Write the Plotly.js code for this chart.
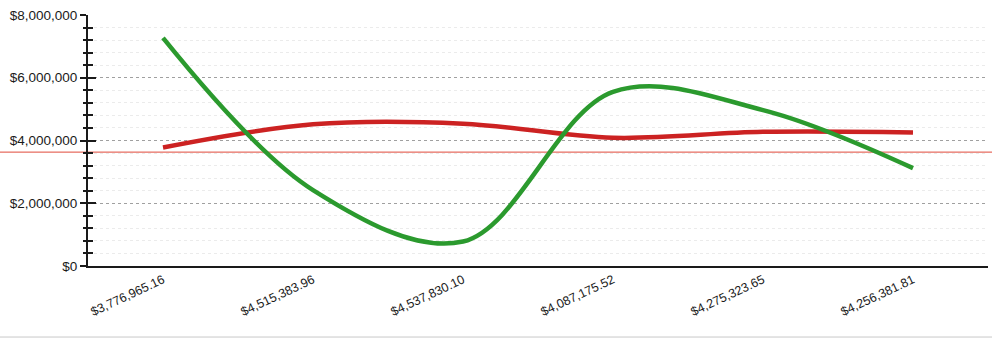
<!DOCTYPE html>
<html>
<head>
<meta charset="utf-8">
<script src="https://cdn.plot.ly/plotly-3.0.1.min.js"></script>
<style>
  html, body { margin: 0; padding: 0; background: #ffffff; }
  #chart { width: 992px; height: 339px; }
</style>
</head>
<body>
<div id="chart"></div>
<script>
// Category labels along the x axis (each one is the red series value)
const categoryLabels = [
  "$3,776,965.16",
  "$4,515,383.96",
  "$4,537,830.10",
  "$4,087,175.52",
  "$4,275,323.65",
  "$4,256,381.81"
];

// Red series: the amounts named in the labels
const redValues = [3776965.16, 4515383.96, 4537830.10, 4087175.52, 4275323.65, 4256381.81];

// Green series
const greenValues = [7270000, 2420000, 780000, 5550000, 4970000, 3120000];

// Reference level drawn as a thin horizontal rule
const referenceLevel = 3630000;

const yRange = [0, 8000000];

const lineRed = {
  x: categoryLabels,
  y: redValues,
  type: "scatter",
  mode: "lines",
  line: { color: "#cc2222", width: 4.5, shape: "spline", smoothing: 1 },
  hoverinfo: "skip",
  showlegend: false
};

const lineGreen = {
  x: categoryLabels,
  y: greenValues,
  type: "scatter",
  mode: "lines",
  line: { color: "#2b9a2e", width: 4.5, shape: "spline", smoothing: 1 },
  hoverinfo: "skip",
  showlegend: false
};

// Invisible companion trace so the overlaid axis (inner tick halves) is drawn
const tickCompanion = {
  x: categoryLabels,
  y: redValues,
  yaxis: "y2",
  type: "scatter",
  mode: "lines",
  opacity: 0,
  hoverinfo: "skip",
  showlegend: false
};

const tickFont = { family: "Liberation Sans, Arial, sans-serif", size: 13.5, color: "#1a1a1a" };

const layout = {
  width: 992,
  height: 339,
  margin: { l: 88, r: 4, t: 15, b: 73 },
  paper_bgcolor: "#ffffff",
  plot_bgcolor: "#ffffff",
  showlegend: false,
  xaxis: {
    type: "category",
    range: [-0.5, 5.5],
    showline: true,
    linecolor: "#1a1a1a",
    linewidth: 2,
    showgrid: false,
    zeroline: false,
    ticks: "",
    tickangle: -25,
    tickfont: { family: "Liberation Sans, Arial, sans-serif", size: 12.5, color: "#1a1a1a" },
    fixedrange: true
  },
  yaxis: {
    range: yRange,
    dtick: 2000000,
    tickprefix: "$",
    tickformat: ",d",
    showline: true,
    linecolor: "#1a1a1a",
    linewidth: 2,
    ticks: "outside",
    ticklen: 6,
    tickwidth: 2,
    tickcolor: "#1a1a1a",
    tickfont: tickFont,
    showgrid: true,
    gridcolor: "#a0a0a0",
    gridwidth: 1,
    griddash: "dot",
    zeroline: false,
    minor: {
      dtick: 400000,
      ticks: "outside",
      ticklen: 3,
      tickwidth: 2,
      tickcolor: "#1a1a1a",
      showgrid: true,
      gridcolor: "#ebebeb",
      gridwidth: 1,
      griddash: "dot"
    },
    fixedrange: true
  },
  yaxis2: {
    overlaying: "y",
    side: "left",
    range: yRange,
    dtick: 2000000,
    showticklabels: false,
    showline: false,
    showgrid: false,
    zeroline: false,
    ticks: "inside",
    ticklen: 8,
    tickwidth: 2,
    tickcolor: "#1a1a1a",
    minor: {
      dtick: 400000,
      ticks: "inside",
      ticklen: 5,
      tickwidth: 2,
      tickcolor: "#1a1a1a",
      showgrid: false
    },
    fixedrange: true
  },
  shapes: [
    {
      type: "line",
      xref: "paper",
      yref: "y",
      x0: -0.11,
      x1: 1.01,
      y0: referenceLevel,
      y1: referenceLevel,
      line: { color: "#e0483a", width: 1 },
      layer: "below"
    },
    {
      type: "line",
      xref: "paper",
      yref: "paper",
      x0: -0.11,
      x1: 1.01,
      y0: -0.283,
      y1: -0.283,
      line: { color: "#c8c8c8", width: 1 }
    }
  ]
};

Plotly.newPlot("chart", [tickCompanion, lineRed, lineGreen], layout, { displayModeBar: false, staticPlot: true });
</script>
</body>
</html>
